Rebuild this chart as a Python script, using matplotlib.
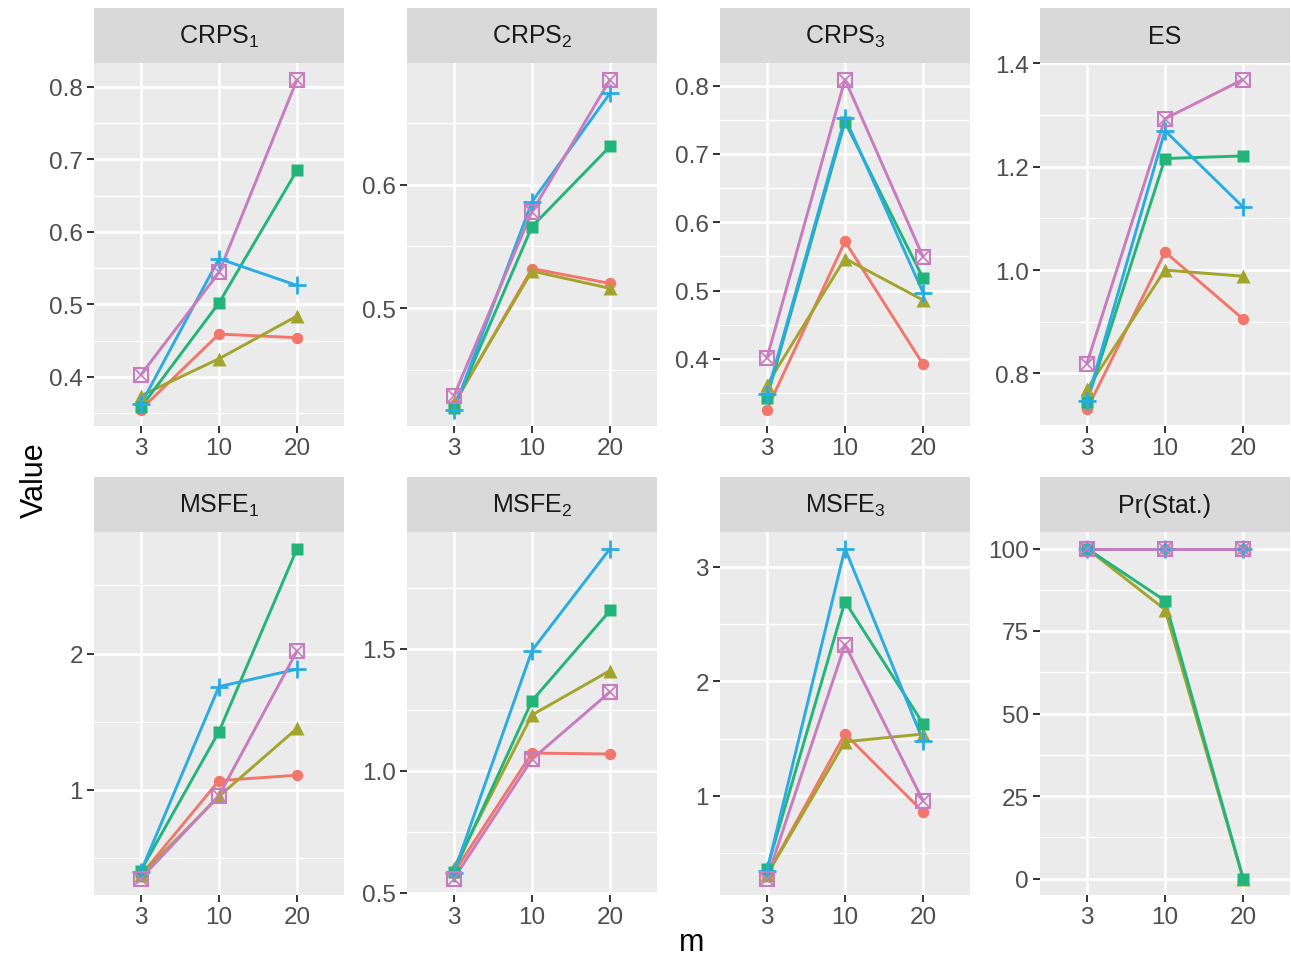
import numpy as np
import matplotlib.pyplot as plt

plt.rcParams['font.family'] = ['Liberation Sans', 'DejaVu Sans']
plt.rcParams['mathtext.default'] = 'regular'

# x categories (discrete axis)
m_levels = ['3', '10', '20']

# panel titles
panel_names = ['CRPS$_1$', 'CRPS$_2$', 'CRPS$_3$', 'ES',
               'MSFE$_1$', 'MSFE$_2$', 'MSFE$_3$', 'Pr(Stat.)']

# values per panel, one row per series (red, olive, green, blue, purple)
crps1 = [[0.355, 0.459, 0.454], [0.374, 0.425, 0.484], [0.358, 0.502, 0.685],
         [0.362, 0.563, 0.526], [0.403, 0.544, 0.810]]
crps2 = [[0.422, 0.532, 0.520], [0.423, 0.530, 0.516], [0.419, 0.566, 0.631],
         [0.418, 0.586, 0.674], [0.429, 0.578, 0.685]]
crps3 = [[0.326, 0.572, 0.392], [0.362, 0.547, 0.486], [0.343, 0.747, 0.518],
         [0.348, 0.753, 0.497], [0.401, 0.809, 0.549]]
es = [[0.730, 1.035, 0.905], [0.769, 1.000, 0.988], [0.744, 1.216, 1.221],
      [0.746, 1.270, 1.122], [0.819, 1.293, 1.369]]
msfe1 = [[0.370, 1.066, 1.105], [0.370, 0.950, 1.450], [0.404, 1.426, 2.772],
         [0.397, 1.757, 1.885], [0.346, 0.956, 2.020]]
msfe2 = [[0.582, 1.072, 1.068], [0.603, 1.228, 1.410], [0.586, 1.286, 1.656],
         [0.582, 1.492, 1.910], [0.558, 1.047, 1.323]]
msfe3 = [[0.310, 1.541, 0.860], [0.310, 1.472, 1.540], [0.360, 2.694, 1.629],
         [0.345, 3.157, 1.480], [0.280, 2.319, 0.956]]
pr_stat = [[100, 100, 100], [100, 81.5, 0], [100, 84.2, 0],
           [100, 100, 100], [100, 100, 100]]

all_values = [crps1, crps2, crps3, es, msfe1, msfe2, msfe3, pr_stat]

# y tick labels per panel
y_ticks = [
    ['0.4', '0.5', '0.6', '0.7', '0.8'],
    ['0.5', '0.6'],
    ['0.4', '0.5', '0.6', '0.7', '0.8'],
    ['0.8', '1.0', '1.2', '1.4'],
    ['1', '2'],
    ['0.5', '1.0', '1.5'],
    ['1', '2', '3'],
    ['0', '25', '50', '75', '100'],
]

colors = ['#F2766B', '#A3A42C', '#23B47A', '#2AACE2', '#C77CBE']
markers = ['o', '^', 's', '+', 'sx']

fig = plt.figure(figsize=(12.91, 9.62), dpi=100)
W, H = 1291.0, 962.0
lefts = [94, 407, 720, 1040]
pw = 250
rows = [(64, 427), (533, 896)]
strip_h = 55

for i, name in enumerate(panel_names):
    r, c = divmod(i, 4)
    top, bot = rows[r]
    ax = fig.add_axes([lefts[c] / W, 1 - bot / H, pw / W, (bot - top) / H])
    sax = fig.add_axes([lefts[c] / W, 1 - top / H, pw / W, strip_h / H])
    sax.set_facecolor('#D9D9D9')
    sax.set_xticks([]); sax.set_yticks([])
    for s in sax.spines.values():
        s.set_visible(False)
    sax.text(0.5, 0.5, name, ha='center', va='center', fontsize=18,
             color='#1A1A1A', transform=sax.transAxes)

    ax.set_facecolor('#EBEBEB')
    for s in ax.spines.values():
        s.set_visible(False)
    x = np.arange(1, len(m_levels) + 1)
    vals = np.array(all_values[i], dtype=float)
    for k in range(len(vals)):
        ax.plot(x, vals[k], color=colors[k], lw=2.1, zorder=3,
                solid_capstyle='butt')
    for k in range(len(vals)):
        mk = markers[k]
        if mk == 'sx':
            ax.plot(x, vals[k], ls='none', marker='s', ms=9.5, mfc='none',
                    mec=colors[k], mew=1.5, zorder=4)
            ax.plot(x, vals[k], ls='none', marker='x', ms=9.5,
                    mec=colors[k], mew=1.2, zorder=4)
        elif mk == '+':
            ax.plot(x, vals[k], ls='none', marker='+', ms=13,
                    mec=colors[k], mew=2.0, zorder=4)
        elif mk == '^':
            ax.plot(x, vals[k], ls='none', marker='^', ms=9.5,
                    color=colors[k], mec='none', zorder=4)
        else:
            ax.plot(x, vals[k], ls='none', marker=mk, ms=8.2,
                    color=colors[k], mec='none', zorder=4)

    lo, hi = vals.min(), vals.max()
    pad = (hi - lo) * 0.05
    ax.set_ylim(lo - pad, hi + pad)
    ax.set_xlim(0.4, len(m_levels) + 0.6)

    tv = [float(t) for t in y_ticks[i]]
    step = tv[1] - tv[0]
    ax.set_yticks(tv)
    ax.set_yticklabels(y_ticks[i])
    minor = [t - step / 2 for t in tv] + [tv[-1] + step / 2]
    minor = [m for m in minor if lo - pad <= m <= hi + pad]
    ax.set_yticks(minor, minor=True)
    ax.set_xticks(x)
    ax.set_xticklabels(m_levels)

    ax.grid(True, which='major', color='white', lw=1.9, zorder=1)
    ax.grid(True, which='minor', axis='y', color='white', lw=0.95, zorder=1)
    ax.set_axisbelow(True)
    ax.tick_params(which='major', direction='out', length=5, width=1.4,
                   color='#333333', labelsize=17.5, labelcolor='#4D4D4D', pad=3)
    ax.tick_params(which='minor', length=0)

fig.text(35 / W, 1 - 480 / H, 'Value', rotation=90, ha='center', va='center',
         fontsize=22, color='black')
fig.text(692 / W, 1 - 943 / H, 'm', ha='center', va='center',
         fontsize=22, color='black')

fig.savefig('out.png', dpi=100, facecolor='white')
